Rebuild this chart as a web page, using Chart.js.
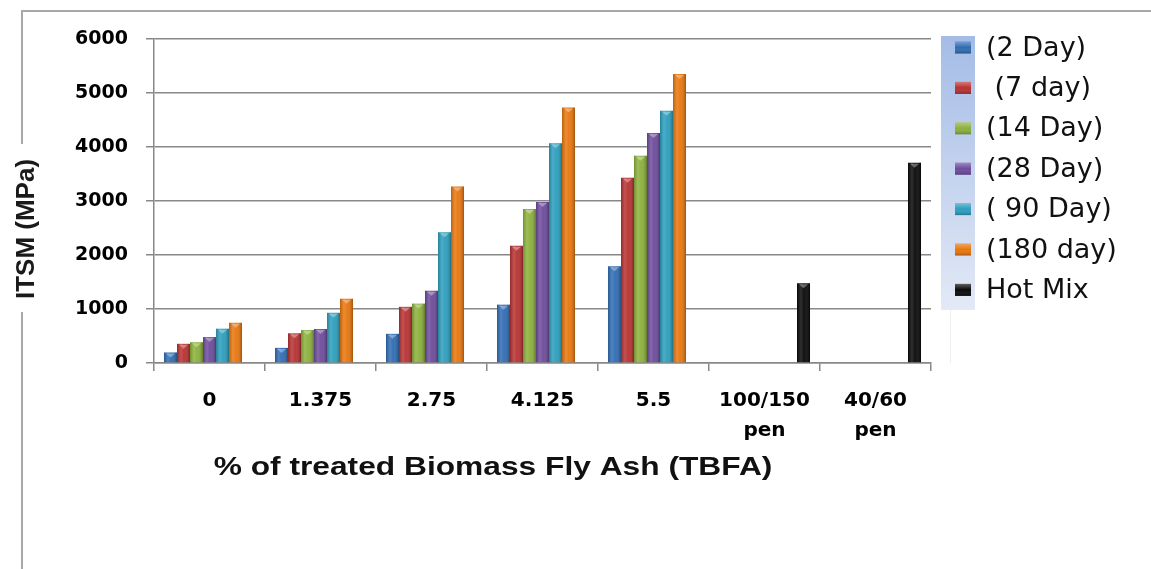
<!DOCTYPE html>
<html>
<head>
<meta charset="utf-8">
<title>ITSM vs TBFA</title>
<script src="https://cdn.jsdelivr.net/npm/chart.js@4"></script>
<style>
  html, body { margin: 0; padding: 0; background: #fff; }
  canvas { display: block; }
</style>
</head>
<body>
<canvas id="itsmChart" width="1151" height="569"></canvas>
<script>
// Data
const categories = ['0', '1.375', '2.75', '4.125', '5.5', ['100/150', 'pen'], ['40/60', 'pen']]
const seriesNames = ['(2 Day)', ' (7 day)', '(14 Day)', '(28 Day)', '( 90 Day)', '(180 day)', 'Hot Mix']
const day2 = [195, 280, 540, 1080, 1790, null, null]
const day7 = [355, 550, 1040, 2170, 3430, null, null]
const day14 = [385, 610, 1100, 2850, 3840, null, null]
const day28 = [480, 630, 1340, 2980, 4260, null, null]
const day90 = [635, 930, 2420, 4070, 4670, null, null]
const day180 = [745, 1190, 3270, 4730, 5350, null, null]
const hotMix = [null, null, null, null, null, 1475, 3710]
const yTicks = [0, 1000, 2000, 3000, 4000, 5000, 6000]

const seriesData = [day2, day7, day14, day28, day90, day180, hotMix]
const seriesColors = ['#2f6cb3', '#b73131', '#8bb03b', '#6d4b9b', '#2b9ebd', '#e8760d', '#080808']

const gridColor = '#888888'

// Outer frame (top + left edges only)
const framePlugin = {
  id: 'frame',
  beforeDraw(chart) {
    const ctx = chart.ctx
    ctx.save()
    ctx.fillStyle = '#fff'
    ctx.fillRect(0, 0, chart.width, chart.height)
    ctx.strokeStyle = '#a8a8a8'
    ctx.lineWidth = 2
    ctx.beginPath()
    ctx.moveTo(22, chart.height)
    ctx.lineTo(22, 11)
    ctx.lineTo(chart.width, 11)
    ctx.stroke()
    ctx.restore()
  },
}

// Cylinder-ish shading on top of each bar
const barShade = {
  id: 'barShade',
  afterDatasetsDraw(chart) {
    const ctx = chart.ctx
    chart.data.datasets.forEach((ds, i) => {
      const meta = chart.getDatasetMeta(i)
      meta.data.forEach((bar, j) => {
        if (ds.data[j] == null) return
        const { x, y, base, width } = bar.getProps(['x', 'y', 'base', 'width'], true)
        const left = x - width / 2
        const right = x + width / 2
        ctx.save()
        const g = ctx.createLinearGradient(left, 0, right, 0)
        g.addColorStop(0, 'rgba(0,0,0,0.18)')
        g.addColorStop(0.3, 'rgba(255,255,255,0.16)')
        g.addColorStop(0.55, 'rgba(255,255,255,0.04)')
        g.addColorStop(1, 'rgba(0,0,0,0.3)')
        ctx.fillStyle = g
        ctx.fillRect(left, y, width, base - y)
        // little chevron cap
        ctx.fillStyle = 'rgba(255,255,255,0.35)'
        ctx.beginPath()
        ctx.moveTo(left + 2, y + 1)
        ctx.lineTo(right - 2, y + 1)
        ctx.lineTo(x, y + 5)
        ctx.closePath()
        ctx.fill()
        ctx.restore()
      })
    })
  },
}

// Axis titles drawn by hand so they can sit off-centre
const axisTitles = {
  id: 'axisTitles',
  afterDraw(chart) {
    const ctx = chart.ctx
    ctx.save()
    // y title sits over the frame line on a white patch
    ctx.fillStyle = '#fff'
    ctx.fillRect(10, 144, 34, 168)
    ctx.translate(27, 229)
    ctx.rotate(-Math.PI / 2)
    ctx.fillStyle = '#1a1a1a'
    ctx.font = 'bold 26px "Liberation Sans", Arial, sans-serif'
    ctx.textAlign = 'center'
    ctx.textBaseline = 'middle'
    ctx.fillText('ITSM (MPa)', 0, 0)
    ctx.restore()

    ctx.save()
    ctx.translate(493, 468)
    ctx.scale(1.22, 1)
    ctx.fillStyle = '#111'
    ctx.font = 'bold 26px "Liberation Sans", Arial, sans-serif'
    ctx.textAlign = 'center'
    ctx.textBaseline = 'middle'
    ctx.fillText('% of treated Biomass Fly Ash (TBFA)', 0, 0)
    ctx.restore()
  },
}

// Legend with the shaded strip behind the markers
const sideLegend = {
  id: 'sideLegend',
  afterDraw(chart) {
    const ctx = chart.ctx
    ctx.save()
    const strip = ctx.createLinearGradient(0, 36, 0, 310)
    strip.addColorStop(0, '#a4bce6')
    strip.addColorStop(1, '#e3e9f6')
    ctx.fillStyle = strip
    ctx.fillRect(941, 36, 34, 274)

    ctx.strokeStyle = '#eeeeee'
    ctx.lineWidth = 1
    ctx.beginPath()
    ctx.moveTo(950.5, 310)
    ctx.lineTo(950.5, 363)
    ctx.stroke()

    ctx.font = '27px "DejaVu Sans", sans-serif'
    ctx.textBaseline = 'middle'
    chart.data.datasets.forEach((ds, i) => {
      const cy = 47.5 + i * 40.4
      ctx.fillStyle = ds.backgroundColor
      ctx.fillRect(955, cy - 6, 16, 12)
      const g = ctx.createLinearGradient(0, cy - 6, 0, cy + 6)
      g.addColorStop(0, 'rgba(255,255,255,0.35)')
      g.addColorStop(0.5, 'rgba(255,255,255,0)')
      g.addColorStop(1, 'rgba(0,0,0,0.25)')
      ctx.fillStyle = g
      ctx.fillRect(955, cy - 6, 16, 12)
      ctx.fillStyle = '#111'
      ctx.fillText(ds.label, 986, cy + 1)
    })
    ctx.restore()
  },
}

const ctx = document.getElementById('itsmChart').getContext('2d')
const itsmChart = new Chart(ctx, {
  type: 'bar',
  data: {
    labels: categories,
    datasets: seriesData.map((d, i) => ({
      label: seriesNames[i],
      data: d,
      backgroundColor: seriesColors[i],
      borderWidth: 0,
      barPercentage: 1.0,
      categoryPercentage: 0.82,
    })),
  },
  options: {
    responsive: false,
    devicePixelRatio: 1,
    animation: false,
    layout: { padding: { left: 0, top: 39, right: 220, bottom: 0 } },
    plugins: {
      legend: { display: false },
      tooltip: { enabled: false },
    },
    scales: {
      x: {
        grid: {
          drawOnChartArea: false,
          drawTicks: true,
          tickLength: 8,
          color: gridColor,
          lineWidth: 1.5,
        },
        border: { color: gridColor, width: 1.5 },
        ticks: {
          color: '#000',
          padding: 15,
          maxRotation: 0,
          autoSkip: false,
          font: { family: '"DejaVu Sans"', weight: 'bold', size: 20, lineHeight: 1.5 },
        },
        afterFit: (scale) => { scale.height = 206 },
      },
      y: {
        min: 0,
        max: 6000,
        afterBuildTicks: (scale) => { scale.ticks = yTicks.map((v) => ({ value: v })) },
        grid: { color: gridColor, lineWidth: 1.5, tickLength: 8 },
        border: { color: gridColor, width: 1.5 },
        ticks: {
          color: '#000',
          padding: 18,
          callback: (v) => String(v),
          font: { family: '"DejaVu Sans"', weight: 'bold', size: 19 },
        },
        afterFit: (scale) => { scale.width = 154 },
      },
    },
  },
  plugins: [framePlugin, barShade, axisTitles, sideLegend],
})
</script>
</body>
</html>
